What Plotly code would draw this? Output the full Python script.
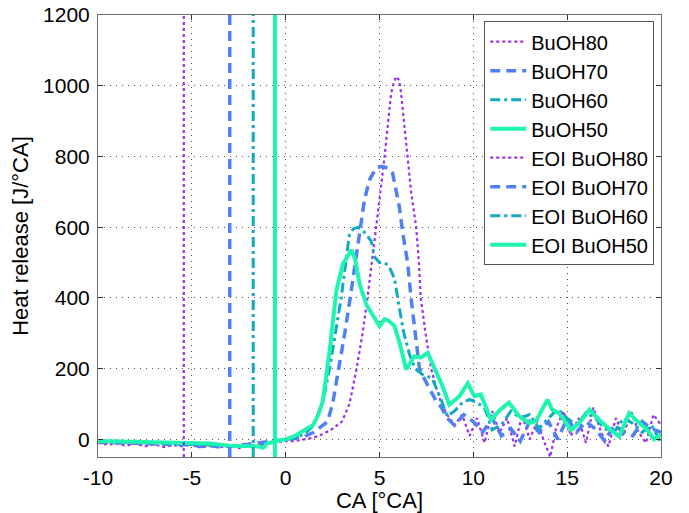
import plotly.graph_objects as go

# ---------------- data ----------------
x80 = [-10, -9.5, -9, -8.5, -8, -7.5, -7, -6.5, -6, -5.5, -5, -4.5, -4, -3.5, -3, -2.5, -2, -1.5, -1, -0.5, 0, 0.5, 1,
       1.5, 2, 2.5, 3.0, 3.4, 3.78, 4.1, 4.36, 4.6, 4.82, 5.05, 5.27, 5.44, 5.62, 5.77, 5.89, 6.05, 6.15, 6.33, 6.5,
       6.69, 6.95, 7.1, 7.2, 7.45, 7.75, 8.0, 8.3, 8.6, 9.0, 9.4, 9.8, 10.2, 10.6, 11.0, 11.4, 11.8, 12.2, 12.6, 13.0,
       13.4, 13.8, 14.1, 14.4, 14.8, 15.2, 15.6, 16.0, 16.4, 16.8, 17.2, 17.6, 18.0, 18.4, 18.8, 19.2, 19.6, 20]
y80 = [-10, -15, -12, -18, -12, -20, -14, -22, -16, -20, -14, -24, -16, -22, -18, -25, -16, -20, -12, -8, -5, -5, 0,
       5, 15, 30, 50, 100, 200, 300, 400, 500, 602, 700, 800, 885, 979, 1010, 1026, 1015, 979, 885, 791,
       697, 602, 500, 400, 300, 200, 150, 100, 70, 40, 70, 10, 60, -10, 80, 20, 60, -20, 70, 0,
       50, -10, -50, 30, 80, 10, 60, -10, 90, 20, -20, 60, 10, 80, 20, -10, 70, 40]

x70 = [-10, -9, -8, -7, -6, -5, -4.5, -4, -3.5, -3, -2.5, -2, -1.5, -1, -0.5, 0, 0.5, 1, 1.5, 2.0, 2.23, 2.5, 2.84,
       3.15, 3.44, 3.7, 4.03, 4.2, 4.47, 4.82, 5.09, 5.44, 5.7, 5.89, 6.06, 6.24, 6.5, 6.68, 6.9, 7.13, 7.4, 7.7,
       8.0, 8.3, 8.6, 9.0, 9.5, 10.0, 10.5, 11.0, 11.5, 12.0, 12.5, 13.0, 13.5, 14.0, 14.5, 15.0, 15.5, 16.0, 16.5,
       17.0, 17.5, 18.0, 18.5, 19.0, 19.5, 20]
y70 = [-8, -10, -12, -12, -14, -16, -20, -18, -22, -20, -16, -14, -10, -6, -2, 0, 3, 8, 20, 40, 50, 100, 200,
       300, 400, 500, 621, 678, 734, 767, 772, 767, 752, 695, 657, 583, 500, 400, 300, 200, 170, 140,
       110, 90, 60, 40, 70, 50, 20, 60, 10, 30, -5, 50, 20, 50, 0, 60, 20, 50, 30,
       -5, 40, 20, 10, 50, 30, 20]

x60 = [-10, -9, -8, -7, -6, -5, -4, -3, -2.5, -2, -1.5, -1, -0.5, 0, 0.5, 1, 1.5, 2.0, 2.34, 2.65, 2.96, 3.2, 3.4,
       3.6, 3.85, 4.1, 4.3, 4.56, 4.75, 5.0, 5.25, 5.5, 5.8, 6.06, 6.3, 6.6, 6.9, 7.3, 7.8, 8.28, 8.6, 9.0, 9.4,
       9.8, 10.2, 10.6, 11.0, 11.5, 12.0, 12.5, 13.0, 13.5, 14.0, 14.5, 15.0, 15.5, 16.0, 16.5, 17.0, 17.5, 18.0,
       18.5, 19.0, 19.5, 20]
y60 = [-6, -8, -9, -10, -12, -14, -16, -18, -18, -20, -20, -12, -6, 0, 5, 15, 40, 110, 200, 300, 400, 500, 580,
       595, 600, 590, 580, 560, 515, 500, 500, 490, 455, 370, 300, 240, 200, 183, 173, 113, 66, 80, 103,
       113, 103, 90, 27, 41, 80, 60, 70, 30, 60, 85, 60, 40, 75, 60, 30, 20, 60,
       45, 20, 40, -10]

x50 = [-10, -9, -8, -7, -6, -5, -4, -3, -2, -1.5, -1.2, -1, -0.5, 0, 0.5, 1, 1.45, 1.75, 1.98, 2.34, 2.7, 3.05, 3.3,
       3.5, 3.7, 3.94, 4.29, 4.64, 5.0, 5.27, 5.5, 5.8, 6.06, 6.42, 6.86, 7.2, 7.57, 8.0, 8.36, 8.72, 9.26, 9.7,
       10.05, 10.4, 10.94, 11.4, 11.9, 12.45, 12.98, 13.33, 13.95, 14.2, 14.57, 15.2, 15.64, 16.2, 16.7, 17.3,
       17.77, 18.3, 18.65, 19.27, 19.63, 20]
y50 = [-5, -6, -7, -8, -9, -10, -12, -18, -20, -20, -24, -12, -5, 0, 10, 25, 40, 70, 108, 250, 420, 496, 520,
       535, 510, 440, 382, 354, 320, 340, 335, 320, 275, 198, 235, 231, 245, 193, 150, 98, 122, 158,
       122, 127, 55, 82, 104, 65, 46, 51, 112, 84, 74, 27, 46, 84, 55, 27,
       8, 74, 55, 27, 0, 13]

eoi_x = [-5.43, -2.98, -1.73, -0.57]

names = ["BuOH80", "BuOH70", "BuOH60", "BuOH50"]
xs = [x80, x70, x60, x50]
ys = [y80, y70, y60, y50]

colors = ["#9B2EF2", "#4F80F5", "#12AAC2", "#1EF5B0"]
dashes = ["3px,3px", "10px,6px", "10px,4px,3px,4px", "solid"]
widths = [2.2, 3.5, 3.0, 4.0]

x_range = [-10, 20]
y_range = [-50, 1200]
x_ticks = [-10, -5, 0, 5, 10, 15, 20]
y_ticks = [0, 200, 400, 600, 800, 1000, 1200]

fig = go.Figure()
for n, x, y, c, d, w in zip(names, xs, ys, colors, dashes, widths):
    fig.add_trace(go.Scatter(x=x, y=y, mode="lines", name=n,
                             line=dict(color=c, dash=d, width=w)))
for n, e, c, d, w in zip(names, eoi_x, colors, dashes, widths):
    fig.add_trace(go.Scatter(x=[e, e], y=y_range, mode="lines", name="EOI " + n,
                             line=dict(color=c, dash=d, width=w)))

font = "Liberation Sans, Arial, sans-serif"
axis_common = dict(showline=True, linecolor="#6e6e6e", linewidth=1, mirror="ticks",
                   ticks="inside", ticklen=5, tickcolor="#333333", automargin=False,
                   showgrid=True, gridcolor="rgba(40,40,40,0.8)", griddash="1px,5px", gridwidth=1,
                   zeroline=False, tickfont=dict(family=font, size=21, color="black"))

fig.update_xaxes(range=x_range, tickvals=x_ticks, ticktext=[str(t) for t in x_ticks],
                 title=dict(text="CA [°CA]", font=dict(family=font, size=22, color="black"), standoff=0),
                 ticklabelstandoff=2, **axis_common)
fig.update_yaxes(range=y_range, tickvals=y_ticks, ticktext=[str(t) for t in y_ticks],
                 title=dict(text="Heat release [J/°CA]", font=dict(family=font, size=22, color="black"), standoff=8),
                 ticklabelstandoff=3, **axis_common)

fig.update_layout(
    width=689, height=513,
    margin=dict(l=98, r=28, t=15, b=56),
    paper_bgcolor="white", plot_bgcolor="white",
    font=dict(family=font, size=21, color="black"),
    showlegend=True,
    legend=dict(x=0.988, y=0.986, xanchor="right", yanchor="top",
                bgcolor="white", bordercolor="#555555", borderwidth=1,
                font=dict(family=font, size=20, color="black"),
                itemwidth=36, tracegroupgap=0),
)

fig.write_html("out.html")
